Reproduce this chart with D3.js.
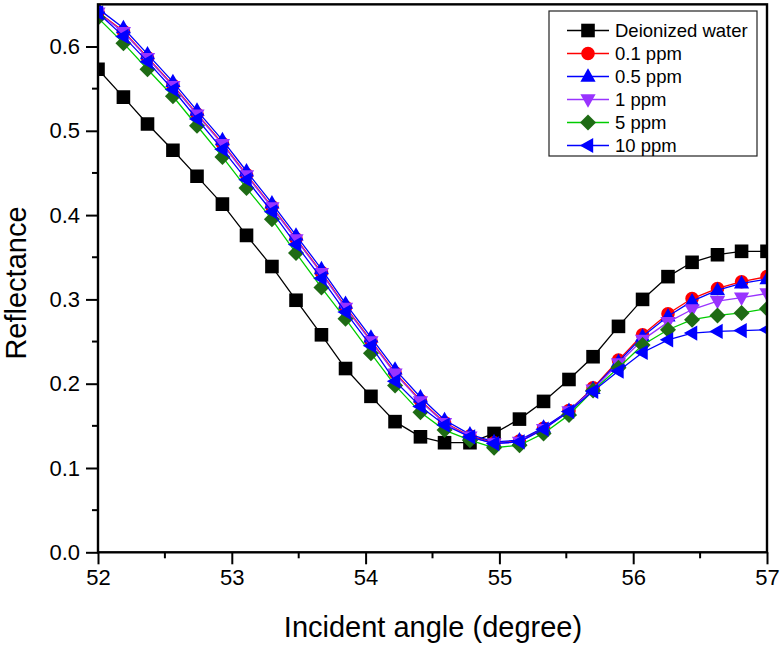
<!DOCTYPE html>
<html>
<head>
<meta charset="utf-8">
<script src="https://cdn.jsdelivr.net/npm/d3@7/dist/d3.min.js"></script>
<style>
  html, body { margin: 0; padding: 0; background: #fff; }
  svg { display: block; font-family: "Liberation Sans", Arial, sans-serif; }
</style>
</head>
<body>
<svg id="chart" width="783" height="647"></svg>
<script>
// ---- data ----
const angles = [52.00, 52.19, 52.37, 52.56, 52.74, 52.93, 53.11, 53.30, 53.48, 53.67,
                53.85, 54.04, 54.22, 54.41, 54.59, 54.78, 54.96, 55.15, 55.33, 55.52,
                55.70, 55.89, 56.07, 56.26, 56.44, 56.63, 56.81, 57.00];

const deionized = [0.573, 0.540, 0.508, 0.477, 0.446, 0.413, 0.376, 0.339, 0.299, 0.258,
                   0.218, 0.185, 0.155, 0.137, 0.130, 0.130, 0.141, 0.158, 0.179, 0.205,
                   0.232, 0.268, 0.300, 0.327, 0.344, 0.353, 0.357, 0.357];
const ppm01 = [0.641, 0.618, 0.587, 0.554, 0.520, 0.485, 0.448, 0.410, 0.372, 0.332,
               0.291, 0.251, 0.213, 0.180, 0.154, 0.138, 0.130, 0.132, 0.147, 0.168,
               0.195, 0.228, 0.258, 0.283, 0.301, 0.313, 0.321, 0.327];
const ppm05 = [0.645, 0.622, 0.591, 0.558, 0.524, 0.489, 0.452, 0.414, 0.376, 0.336,
               0.295, 0.255, 0.217, 0.184, 0.157, 0.140, 0.131, 0.133, 0.148, 0.168,
               0.194, 0.226, 0.256, 0.280, 0.298, 0.311, 0.319, 0.324];
const ppm1  = [0.640, 0.617, 0.586, 0.553, 0.519, 0.484, 0.447, 0.409, 0.371, 0.331,
               0.290, 0.250, 0.212, 0.179, 0.153, 0.137, 0.129, 0.131, 0.146, 0.167,
               0.193, 0.224, 0.252, 0.273, 0.288, 0.298, 0.302, 0.307];
const ppm5  = [0.634, 0.604, 0.573, 0.541, 0.506, 0.469, 0.432, 0.395, 0.355, 0.314,
               0.277, 0.236, 0.198, 0.166, 0.145, 0.133, 0.124, 0.127, 0.141, 0.163,
               0.192, 0.219, 0.246, 0.264, 0.276, 0.281, 0.284, 0.289];
const ppm10 = [0.640, 0.612, 0.582, 0.549, 0.514, 0.478, 0.442, 0.404, 0.365, 0.325,
               0.285, 0.245, 0.203, 0.173, 0.151, 0.137, 0.129, 0.131, 0.146, 0.167,
               0.191, 0.215, 0.237, 0.252, 0.260, 0.262, 0.263, 0.264];

const seriesNames = ["Deionized water", "0.1 ppm", "0.5 ppm", "1 ppm", "5 ppm", "10 ppm"];
const xTicks = [52, 53, 54, 55, 56, 57];
const yTicks = [0.0, 0.1, 0.2, 0.3, 0.4, 0.5, 0.6];

// ---- styles ----
const styles = [
  { values: deionized, line: "#000000", fill: "#000000", sym: "square" },
  { values: ppm01, line: "#ff0000", fill: "#ff0000", sym: "circle" },
  { values: ppm05, line: "#0000ff", fill: "#0000ff", sym: "up" },
  { values: ppm1,  line: "#9933ff", fill: "#9933ff", sym: "down" },
  { values: ppm5,  line: "#00cc00", fill: "#1e6b14", sym: "diamond" },
  { values: ppm10, line: "#0000ff", fill: "#0000ff", sym: "left" }
];

const svg = d3.select("#chart");
const L = 98, R = 767, T = 4.35, B = 552.3;

const x = d3.scaleLinear().domain([52, 57]).range([L, R]);
const y = d3.scaleLinear().domain([0, 0.65]).range([B, T]);

function symbolPath(sym) {
  const s = 6.8;
  switch (sym) {
    case "square": return `M${-s},${-s}h${2*s}v${2*s}h${-2*s}Z`;
    case "circle": return d3.symbol(d3.symbolCircle, Math.PI * 6.8 * 6.8)();
    case "up": return `M0,${-8.2}L${7.6},${5.2}L${-7.6},${5.2}Z`;
    case "down": return `M0,${8.2}L${7.6},${-5.2}L${-7.6},${-5.2}Z`;
    case "diamond": return `M0,${-8}L${8},0L0,${8}L${-8},0Z`;
    case "left": return `M${-8.2},0L${5.2},${-7.6}L${5.2},${7.6}Z`;
  }
}

svg.append("defs").append("clipPath").attr("id", "plotclip")
  .append("rect").attr("x", L).attr("y", T).attr("width", R - L).attr("height", B - T);

const plot = svg.append("g").attr("clip-path", "url(#plotclip)");

const line = d3.line().x((d, i) => x(angles[i])).y(d => y(d));

styles.forEach(st => {
  const g = plot.append("g");
  g.append("path").attr("d", line(st.values))
    .attr("fill", "none").attr("stroke", st.line).attr("stroke-width", 1.3);
  g.selectAll("path.m").data(st.values).enter().append("path")
    .attr("class", "m")
    .attr("d", symbolPath(st.sym))
    .attr("transform", (d, i) => `translate(${x(angles[i])},${y(d)})`)
    .attr("fill", st.fill);
});

// ---- axes ----
const xAxis = d3.axisBottom(x).tickValues(xTicks).tickFormat(d3.format("d"))
  .tickSize(12).tickPadding(4);
const yAxis = d3.axisLeft(y).tickValues(yTicks).tickFormat(d3.format(".1f"))
  .tickSize(12).tickPadding(6);

const gx = svg.append("g").attr("transform", `translate(0,${B})`).call(xAxis);
const gy = svg.append("g").attr("transform", `translate(${L},0)`).call(yAxis);

[gx, gy].forEach(g => {
  g.select(".domain").remove();
  g.selectAll(".tick line").attr("stroke", "#000").attr("stroke-width", 2);
  g.selectAll(".tick text").attr("fill", "#000").style("font-size", "22px")
    .style("font-family", '"Liberation Sans", Arial, sans-serif');
});
gx.selectAll(".tick text").attr("dy", "0.78em");

// minor ticks
const xMinor = [52.5, 53.5, 54.5, 55.5, 56.5];
const yMinor = [0.05, 0.15, 0.25, 0.35, 0.45, 0.55];
svg.append("g").selectAll("line").data(xMinor).enter().append("line")
  .attr("x1", d => x(d)).attr("x2", d => x(d)).attr("y1", B).attr("y2", B + 6)
  .attr("stroke", "#000").attr("stroke-width", 2);
svg.append("g").selectAll("line").data(yMinor).enter().append("line")
  .attr("y1", d => y(d)).attr("y2", d => y(d)).attr("x1", L).attr("x2", L - 6)
  .attr("stroke", "#000").attr("stroke-width", 2);

// frame
svg.append("rect").attr("x", L).attr("y", T).attr("width", R - L).attr("height", B - T)
  .attr("fill", "none").attr("stroke", "#000").attr("stroke-width", 2.4);

// axis titles
svg.append("text").attr("x", 433).attr("y", 637).attr("text-anchor", "middle")
  .style("font-size", "29px").text("Incident angle (degree)");
svg.append("text").attr("transform", "translate(26,283) rotate(-90)")
  .attr("text-anchor", "middle").style("font-size", "29px").text("Reflectance");

// legend
const lg = svg.append("g");
lg.append("rect").attr("x", 549).attr("y", 11).attr("width", 208).attr("height", 145)
  .attr("fill", "#fff").attr("stroke", "#222").attr("stroke-width", 1.2);
seriesNames.forEach((name, i) => {
  const st = styles[i];
  const yy = 30.5 + i * 23;
  lg.append("line").attr("x1", 567).attr("x2", 609).attr("y1", yy).attr("y2", yy)
    .attr("stroke", st.line).attr("stroke-width", 1.3);
  lg.append("path").attr("d", symbolPath(st.sym))
    .attr("transform", `translate(588,${yy})`).attr("fill", st.fill);
  lg.append("text").attr("x", 615).attr("y", yy).attr("dy", "0.36em")
    .style("font-size", "18.5px").text(name);
});
</script>
</body>
</html>
